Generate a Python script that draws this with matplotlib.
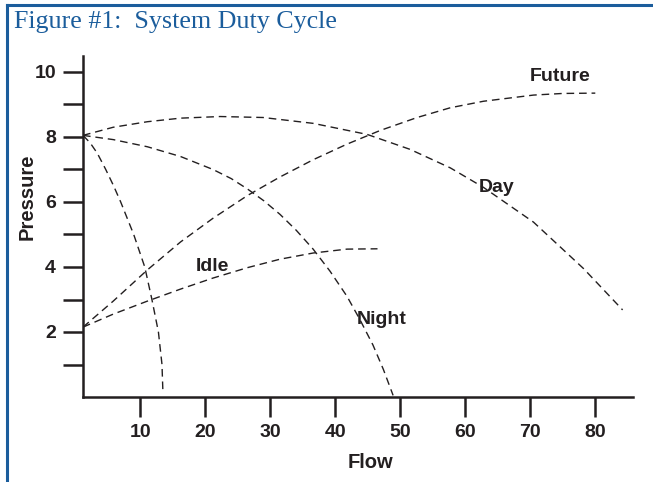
import matplotlib
matplotlib.use('Agg')
import matplotlib.pyplot as plt
from matplotlib.lines import Line2D

# curves (flow, pressure)
future_x = [1.2, 5.85, 11.1, 16.2, 21.2, 26.5, 31.5, 36.6, 41.8, 46.9, 52.6, 57.7, 62.8, 70.5, 75.0, 80.0]
future_y = [2.15, 2.95, 3.91, 4.77, 5.5, 6.2, 6.77, 7.3, 7.78, 8.2, 8.6, 8.9, 9.1, 9.29, 9.34, 9.35]

day_x = [1.2, 5.85, 11.1, 16.2, 22.3, 28.9, 36.6, 44.9, 51.5, 57.7, 62.8, 70.5, 78.2, 84.2]
day_y = [8.05, 8.3, 8.47, 8.58, 8.63, 8.6, 8.42, 8.08, 7.62, 7.05, 6.45, 5.38, 3.95, 2.68]

night_x = [1.2, 5.85, 11.1, 16.2, 21.2, 24.0, 26.5, 29.0, 31.5, 34.0, 36.6, 39.2, 41.8, 43.8, 45.8, 47.4, 48.9]
night_y = [8.05, 7.92, 7.7, 7.4, 7.0, 6.72, 6.4, 6.04, 5.62, 5.13, 4.55, 3.87, 3.1, 2.38, 1.6, 0.85, 0.05]

idle_x = [1.2, 5.85, 11.1, 16.2, 21.2, 26.5, 31.5, 36.6, 41.8, 46.5]
idle_y = [2.15, 2.55, 2.95, 3.32, 3.66, 3.98, 4.24, 4.43, 4.55, 4.56]

# steep curve without a name
steep_x = [1.2, 2.3, 3.4, 4.7, 5.9, 7.0, 8.0, 9.0, 10.7, 11.8, 12.8, 13.35, 13.5]
steep_y = [8.05, 7.82, 7.5, 7.0, 6.5, 6.0, 5.5, 5.0, 4.0, 3.0, 2.0, 1.0, 0.1]

labels = ['Future', 'Day', 'Idle', 'Night']
label_x = [74.6, 64.8, 21.1, 47.2]
label_y = [9.85, 6.45, 4.0, 2.37]

x_ticks = [10, 20, 30, 40, 50, 60, 70, 80]
y_major = [2, 4, 6, 8, 10]
y_minor = [1, 3, 5, 7, 9]

INK = '#231f20'
BLUE = '#1b5d9c'

plt.rcParams['font.family'] = ['Liberation Sans', 'DejaVu Sans']

fig = plt.figure(figsize=(6.53, 4.82), dpi=100)
ax = fig.add_axes([83/653, 1 - 397/482, 550/653, 341.25/482])

dash = (0, (5.5, 3.5))
for xs, ys in [(future_x, future_y), (day_x, day_y), (night_x, night_y),
               (idle_x, idle_y), (steep_x, steep_y)]:
    ax.plot(xs, ys, color=INK, lw=1.0, linestyle=dash)

for t, lx, ly in zip(labels, label_x, label_y):
    ax.text(lx, ly, t, ha='center', va='center', fontsize=14,
            fontweight='bold', color=INK)

ax.set_xlim(1.2, 85.8)
ax.set_ylim(0, 10.5)
ax.set_xticks(x_ticks)
ax.set_yticks(y_major)
ax.set_yticks(y_minor, minor=True)
for s in ['top', 'right']:
    ax.spines[s].set_visible(False)
for s in ['left', 'bottom']:
    ax.spines[s].set_linewidth(1.8)
    ax.spines[s].set_color(INK)
ax.tick_params(axis='both', which='both', direction='out', length=14.5,
               width=1.8, color=INK, labelsize=14, labelcolor=INK, pad=5)
for lab in ax.get_xticklabels() + ax.get_yticklabels():
    lab.set_fontweight('bold')

ax.set_xlabel('Flow', fontsize=14.5, fontweight='bold', color=INK)
ax.set_ylabel('Pressure', fontsize=14.5, fontweight='bold', color=INK)
ax.xaxis.set_label_coords((370 - 83) / 550, -(463 - 397) / 341.25)
ax.yaxis.set_label_coords(-(83 - 27) / 550, (397 - 197) / 341.25)
ax.xaxis.label.set_va('center')
ax.yaxis.label.set_va('center')

# blue frame and title
fig.add_artist(Line2D([7/653, 7/653], [0, 1 - 5/482], color=BLUE, lw=2.2))
fig.add_artist(Line2D([7/653, 1], [1 - 5/482, 1 - 5/482], color=BLUE, lw=2.2))
fig.text(14/653, 1 - 22/482, 'Figure #1:  System Duty Cycle', fontsize=18.7,
         family='Liberation Serif', color=BLUE, va='center', ha='left')

fig.savefig('out.png', dpi=100)
